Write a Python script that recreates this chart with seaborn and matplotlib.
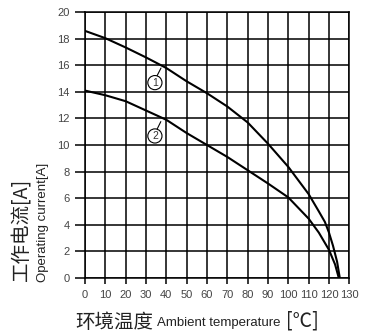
import numpy as np
import pandas as pd
import seaborn as sns
from matplotlib import pyplot as plt

# curve 1 / curve 2: operating current vs ambient temperature
temp_1 = [0, 10, 20, 30, 40, 50, 60, 70, 80, 90, 100, 110, 115, 118, 120, 122, 124, 125.3]
current_1 = [18.6, 18.05, 17.35, 16.6, 15.8, 14.8, 13.9, 12.9, 11.7, 10.1, 8.35, 6.3, 5.0, 4.2, 3.4, 2.4, 1.2, 0.0]

temp_2 = [0, 10, 20, 30, 40, 50, 60, 70, 80, 90, 100, 110, 115, 120, 123, 124.8]
current_2 = [14.1, 13.75, 13.3, 12.6, 11.9, 10.9, 10.0, 9.1, 8.1, 7.1, 6.05, 4.45, 3.4, 2.1, 1.0, 0.0]

x_ticks = list(range(0, 131, 10))
y_ticks = list(range(0, 21, 2))

df = pd.concat([
    pd.DataFrame({"temp": temp_1, "current": current_1, "curve": "1"}),
    pd.DataFrame({"temp": temp_2, "current": current_2, "curve": "2"}),
])

sns.set_style("white")
plt.rcParams["font.family"] = ["Liberation Sans", "Noto Sans CJK SC", "DejaVu Sans"]

fig, ax = plt.subplots(figsize=(3.71, 3.32), dpi=100)
fig.subplots_adjust(left=0.229, right=0.9415, bottom=0.1636, top=0.963)

sns.lineplot(data=df, x="temp", y="current", units="curve", estimator=None,
             color="black", linewidth=1.5, sort=False, ax=ax, legend=False)

ax.set_xlim(0, 130)
ax.set_ylim(0, 20)
ax.set_xticks(x_ticks)
ax.set_yticks(y_ticks)
ax.grid(True, color="black", linewidth=1.1)
ax.set_axisbelow(True)
for s in ax.spines.values():
    s.set_color("black")
    s.set_linewidth(1.1)
ax.tick_params(axis="y", length=7.2, width=1.1, color="black", labelsize=8,
               labelcolor="#444444", pad=3.6, left=True)
ax.tick_params(axis="x", length=4.3, width=1.1, color="black", labelsize=8,
               labelcolor="#444444", pad=4.5, bottom=True)
ax.set_xlabel("")
ax.set_ylabel("")

# circled curve markers with leader lines
for (cx, cy), (x0, y0, x1, y1), lab in [((34.4, 14.7), (35.4, 15.2, 37.4, 15.8), "1"),
                                         ((34.4, 10.68), (35.5, 11.2, 37.3, 11.76), "2")]:
    ax.plot([x0, x1], [y0, y1], color="black", linewidth=0.8)
    ax.annotate(lab, (cx, cy), ha="center", va="center", fontsize=7.5, color="#333333",
                bbox=dict(boxstyle="circle,pad=0.2", fc="white", ec="black", lw=0.8))

# axis titles
fig.text(22 / 371, 1 - 229 / 332, "工作电流[A]", rotation=90, ha="center", va="center",
         fontsize=14, family=["Noto Sans CJK SC"], color="#222222")
fig.text(43 / 371, 1 - 222 / 332, "Operating current[A]", rotation=90, ha="center", va="center",
         fontsize=9.5, color="#222222")
fig.text(75 / 371, 1 - 322 / 332, "环境温度", ha="left", va="center",
         fontsize=14, family=["Noto Sans CJK SC"], color="#222222")
fig.text(157 / 371, 1 - 323 / 332, "Ambient temperature", ha="left", va="center",
         fontsize=9.5, color="#222222")
fig.text(286 / 371, 1 - 321 / 332, "[℃]", ha="left", va="center",
         fontsize=14, family=["Noto Sans CJK SC"], color="#222222")

fig.savefig("out.png", dpi=100)
